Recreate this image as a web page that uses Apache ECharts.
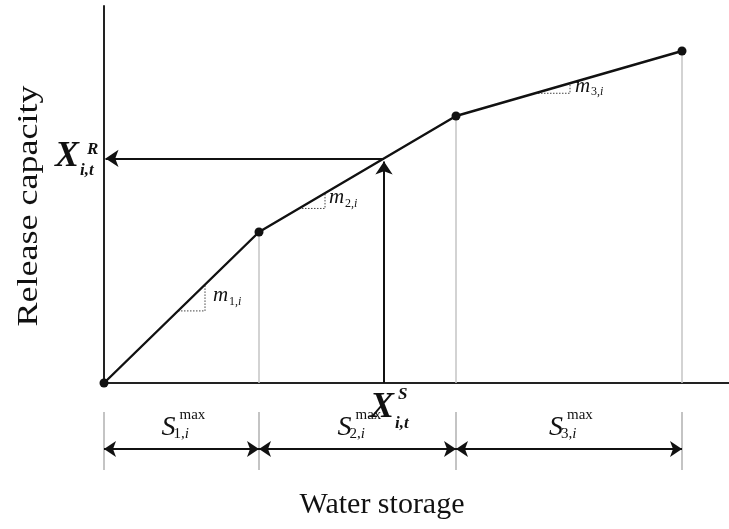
<!DOCTYPE html>
<html>
<head>
<meta charset="utf-8">
<script src="https://cdn.jsdelivr.net/npm/echarts@6/dist/echarts.min.js"></script>
<style>
  html, body { margin: 0; padding: 0; background: #ffffff; }
  #main { width: 729px; height: 529px; }
</style>
</head>
<body>
<div id="main"></div>
<script>
// Storage zones of the piecewise-linear release rule
const zoneIndex = ['1', '2', '3'];
const zoneCapacity = [31, 39.4, 45.2];            // S_{k,i}^max
const releaseAtBoundary = [0, 30.2, 53.4, 66.4];   // release capacity at each zone boundary
// Slope markers m_{k,i}: storage span of the little right triangle in each zone
const slopeMarkerStart = [14.8, 39, 86.2];
const slopeMarkerEnd = [20.2, 44.2, 93.2];
// Current storage state X^S_{i,t}
const storageState = 56;

// Axis extents
const storageMax = 125;
const releaseMax = 75.4;

const SERIF = '"Liberation Serif", "Times New Roman", serif';
const INK = '#111111';

// Cumulative storage at zone boundaries
const boundaries = [0];
zoneCapacity.forEach(function (c, k) { boundaries.push(+(boundaries[k] + c).toFixed(3)); });

function releaseAt(s) {
  for (let k = 0; k < zoneCapacity.length; k++) {
    if (s <= boundaries[k + 1]) {
      const t = (s - boundaries[k]) / zoneCapacity[k];
      return releaseAtBoundary[k] + t * (releaseAtBoundary[k + 1] - releaseAtBoundary[k]);
    }
  }
  return releaseAtBoundary[releaseAtBoundary.length - 1];
}
const releaseState = releaseAt(storageState);

const curve = boundaries.map(function (s, k) { return [s, releaseAtBoundary[k]]; });
const droplines = boundaries.slice(1).map(function (s, k) {
  return { coords: [[s, 0], [s, releaseAtBoundary[k + 1]]] };
});
const slopeTriangles = slopeMarkerStart.map(function (x1, k) {
  const x2 = slopeMarkerEnd[k];
  return { coords: [[x1, releaseAt(x1)], [x2, releaseAt(x1)], [x2, releaseAt(x2)]] };
});
const zoneTicks = boundaries.map(function (s) { return { coords: [[s, 0], [s, 1]] }; });
const zoneSpans = zoneCapacity.map(function (c, k) {
  return { coords: [[boundaries[k], 0.36], [boundaries[k + 1], 0.36]] };
});

const chart = echarts.init(document.getElementById('main'), null, { renderer: 'canvas' });

const hiddenAxis = { show: false };

chart.setOption({
  animation: false,
  backgroundColor: '#ffffff',
  grid: [
    { left: 104, right: 0, top: 6, height: 377 },
    { left: 104, right: 0, top: 412, height: 58 }
  ],
  xAxis: [
    {
      gridIndex: 0, type: 'value', min: 0, max: storageMax,
      axisLine: { show: true, onZero: false, lineStyle: { color: '#222', width: 2 } },
      axisTick: { show: false }, axisLabel: { show: false }, splitLine: { show: false }
    },
    Object.assign({ gridIndex: 1, type: 'value', min: 0, max: storageMax }, hiddenAxis)
  ],
  yAxis: [
    {
      gridIndex: 0, type: 'value', min: 0, max: releaseMax,
      axisLine: { show: true, onZero: false, lineStyle: { color: '#222', width: 2 } },
      axisTick: { show: false }, axisLabel: { show: false }, splitLine: { show: false }
    },
    Object.assign({ gridIndex: 1, type: 'value', min: 0, max: 1 }, hiddenAxis)
  ],
  series: [
    {
      name: 'droplines', type: 'lines', coordinateSystem: 'cartesian2d',
      xAxisIndex: 0, yAxisIndex: 0, silent: true,
      lineStyle: { color: '#c4c4c4', width: 1.5, opacity: 1 },
      data: droplines
    },
    {
      name: 'slopes', type: 'lines', coordinateSystem: 'cartesian2d', polyline: true,
      xAxisIndex: 0, yAxisIndex: 0, silent: true,
      lineStyle: { color: '#444', width: 1, type: [1.5, 1.5], opacity: 1 },
      data: slopeTriangles
    },
    {
      name: 'operating point', type: 'lines', coordinateSystem: 'cartesian2d',
      xAxisIndex: 0, yAxisIndex: 0, silent: true,
      symbol: ['none', 'arrow'], symbolSize: 13,
      lineStyle: { color: INK, width: 2, opacity: 1 },
      data: [
        { coords: [[storageState, 0], [storageState, releaseState - 0.6]] },
        { coords: [[storageState, releaseState], [0.3, releaseState]] }
      ]
    },
    {
      name: 'release rule', type: 'line', xAxisIndex: 0, yAxisIndex: 0,
      data: curve, symbol: 'circle', symbolSize: 9, silent: true,
      itemStyle: { color: INK },
      lineStyle: { color: INK, width: 2.4 }
    },
    {
      name: 'zone ticks', type: 'lines', coordinateSystem: 'cartesian2d',
      xAxisIndex: 1, yAxisIndex: 1, silent: true,
      lineStyle: { color: '#b0b0b0', width: 1.5, opacity: 1 },
      data: zoneTicks
    },
    {
      name: 'zone spans', type: 'lines', coordinateSystem: 'cartesian2d',
      xAxisIndex: 1, yAxisIndex: 1, silent: true,
      symbol: ['arrow', 'arrow'], symbolSize: 12,
      lineStyle: { color: INK, width: 2, opacity: 1 },
      data: zoneSpans
    }
  ]
});

// Text annotations anchored to the data coordinates
function px(grid, pt) { return chart.convertToPixel({ gridIndex: grid }, pt); }
function fontOf(size, italic, bold) {
  return (italic ? 'italic ' : '') + (bold ? 'bold ' : '') + size + 'px ' + SERIF;
}
// (x, baseline) placement: middle alignment sits about 0.34em above the baseline
function txt(x, baseline, text, size, opts) {
  opts = opts || {};
  const rot = opts.rotation || 0;
  const shift = 0.34 * size;
  const el = {
    type: 'text', silent: true,
    x: x - (rot ? shift : 0), y: baseline - (rot ? 0 : shift),
    rotation: rot, scaleX: opts.scaleX || 1,
    style: {
      text: text, fill: INK,
      font: fontOf(size, opts.italic, opts.bold),
      align: opts.align || 'left', verticalAlign: 'middle'
    }
  };
  if (opts.rich) el.style.rich = opts.rich;
  return el;
}
// Subscript "k,i": upright index, italic i
function subRich(size) {
  return {
    n: { font: fontOf(size, false, false), fill: INK },
    v: { font: fontOf(size, true, false), fill: INK }
  };
}

const graphics = [];

// Axis titles
graphics.push(txt(39, 206, 'Release capacity', 30, { rotation: Math.PI / 2, align: 'center', scaleX: 1.2 }));
graphics.push(txt(382, 515, 'Water storage', 30, { align: 'center' }));

// X^R_{i,t} next to the release axis
const pR = px(0, [0, releaseState]);
graphics.push(txt(pR[0] - 49, pR[1] + 11, 'X', 36, { italic: true, bold: true }));
graphics.push(txt(pR[0] - 17, pR[1] - 3, 'R', 17, { italic: true, bold: true }));
graphics.push(txt(pR[0] - 24, pR[1] + 18, 'i,t', 17, { italic: true, bold: true }));

// X^S_{i,t} under the storage axis
const pS = px(0, [storageState, 0]);
graphics.push(txt(pS[0] - 14, pS[1] + 37, 'X', 36, { italic: true, bold: true }));
graphics.push(txt(pS[0] + 14, pS[1] + 17, 'S', 17, { italic: true, bold: true }));
graphics.push(txt(pS[0] + 11, pS[1] + 46, 'i,t', 17, { italic: true, bold: true }));

// Slope labels m_{k,i}
const slopeLabelShift = [[8, -8], [4, -4], [5, 0]];
slopeMarkerEnd.forEach(function (x2, k) {
  const c = px(0, [x2, releaseAt(slopeMarkerStart[k])]);
  const sx = c[0] + slopeLabelShift[k][0];
  const sy = c[1] + slopeLabelShift[k][1];
  graphics.push(txt(sx, sy, 'm', 21, { italic: true }));
  graphics.push(txt(sx + 16, sy + 3, '{n|' + zoneIndex[k] + ',}{v|i}', 12, { rich: subRich(12) }));
});

// Zone capacity labels S_{k,i}^max
zoneCapacity.forEach(function (c, k) {
  const mid = px(1, [boundaries[k] + c / 2, 1])[0];
  graphics.push(txt(mid - 20, 437, 'S', 28, { italic: true }));
  graphics.push(txt(mid - 2, 420, 'max', 15));
  graphics.push(txt(mid - 8, 439, '{n|' + zoneIndex[k] + ',}{v|i}', 15, { rich: subRich(15) }));
});

chart.setOption({ graphic: graphics });
</script>
</body>
</html>
